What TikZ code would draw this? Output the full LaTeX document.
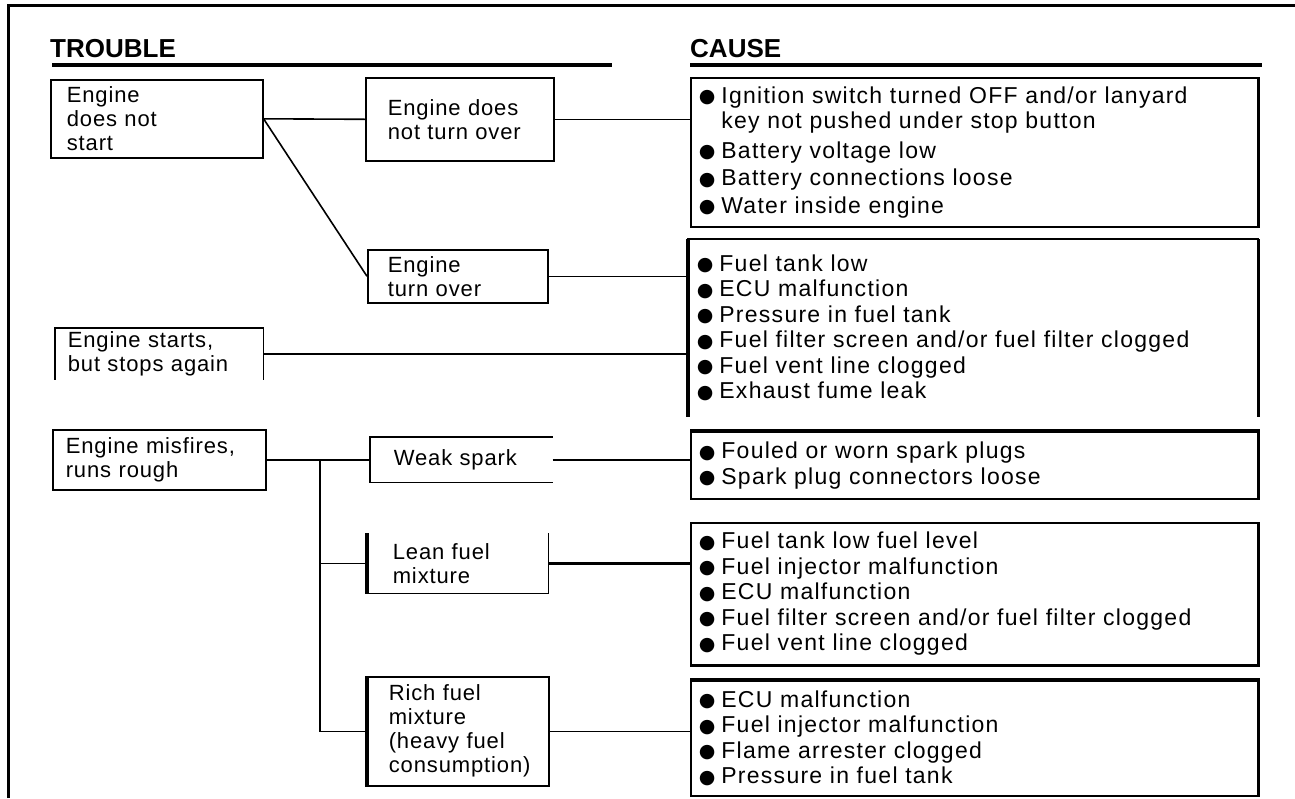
\documentclass[tikz,border=0pt]{standalone}
\usepackage{fontspec}
\setmainfont{Liberation Sans}[LetterSpace=4]
\newfontfamily\headfont{Liberation Sans}
\newfontfamily\causefont{Liberation Sans}[LetterSpace=5.5]
\newfontfamily\dejavu{DejaVu Sans}
\usetikzlibrary{calc}

% bullet for the cause lists
\newcommand{\bul}{\raisebox{0.5pt}{\dejavu\fontsize{19}{19}\selectfont ●}\hspace{6pt}}
\newcommand{\bulgap}{\phantom{\bul}}

\begin{document}
\begin{tikzpicture}[x=1pt, y=-1pt,
  line/.style={line width=1.6pt},
  thickline/.style={line width=3.5pt},
  rule/.style={line width=3.5pt},
  trouble/.style={anchor=north west, draw, line width=1.6pt, align=left, inner ysep=2pt,
    font=\fontsize{22}{24}\selectfont},
  cause/.style={anchor=north west, draw, line width=1.6pt, align=left, inner ysep=2pt,
    minimum width=567pt, text width=551pt, inner xsep=8pt,
    font=\causefont\fontsize{23}{25.5}\selectfont},
  head/.style={anchor=base west, inner sep=0pt, font=\headfont\fontsize{26}{26}\selectfont\bfseries}]

\useasboundingbox (0,0) rectangle (1295,798);

% frame
\draw[line width=3pt] (8,798) -- (8,5) -- (1295,5);

% headings
\node[head] (trouble) at (50,57) {TROUBLE};
\node[head] (causehead) at (690,57) {CAUSE};
\draw[rule] (52,65) -- (612,65);
\draw[rule] (690,65) -- (1262,65);

% trouble boxes
\node[trouble, minimum width=212pt, minimum height=78pt, text width=180pt, inner xsep=16pt] (start) at (50,79) {Engine\\does not\\start};
\node[trouble, minimum width=188pt, minimum height=83pt, text width=144pt, inner xsep=22pt] (noturn) at (365,77) {Engine does\\not turn over};
\node[trouble, minimum width=180pt, minimum height=53pt, text width=140pt, inner xsep=20pt] (turnover) at (367,249) {Engine\\turn over};
\node[trouble, draw=none, minimum width=207pt, minimum height=50pt, text width=183pt, inner xsep=12pt] (starts) at (55,328) {Engine starts,\\but stops again};
\node[trouble, minimum width=213pt, minimum height=60pt, text width=187pt, inner xsep=13pt] (misfire) at (52,429) {Engine misfires,\\runs rough};
\node[trouble, draw=none, minimum width=181pt, minimum height=44pt, text width=135pt, inner xsep=23pt] (weak) at (370,437) {Weak spark};
\node[trouble, draw=none, minimum width=180pt, minimum height=59pt, text width=130pt, inner xsep=25pt] (lean) at (367,533) {Lean fuel\\mixture};
\node[trouble, minimum width=181pt, minimum height=109pt, text width=139pt, inner xsep=21pt] (rich) at (367,676) {Rich fuel\\mixture\\(heavy fuel\\consumption)};

% open sides
\draw[line] (starts.south west) -- (starts.north west) -- (starts.north east) -- (starts.south east);
\draw[line] (weak.north east) -- (weak.north west) -- (weak.south west) -- (weak.south east);
\draw[line] (lean.north west) -- (lean.south west) -- (lean.south east) -- (lean.north east);

% cause boxes
\node[cause, minimum height=149pt] (cause1) at (690,77) {\bul Ignition switch turned OFF and/or lanyard\\
  \bulgap key not pushed under stop button\\[4pt]
  \bul Battery voltage low\\[2pt]
  \bul Battery connections loose\\[2pt]
  \bul Water inside engine};
\node[cause, draw=none, minimum width=569pt, text width=553pt, minimum height=176pt] (cause2) at (688,239) {\bul Fuel tank low\\
  \bul ECU malfunction\\
  \bul Pressure in fuel tank\\
  \bul Fuel filter screen and/or fuel filter clogged\\
  \bul Fuel vent line clogged\\
  \bul Exhaust fume leak};
\node[cause, minimum height=67pt] (cause3) at (690,431) {\bul Fouled or worn spark plugs\\
  \bul Spark plug connectors loose};
\node[cause, minimum height=142pt] (cause4) at (690,522) {\bul Fuel tank low fuel level\\
  \bul Fuel injector malfunction\\
  \bul ECU malfunction\\
  \bul Fuel filter screen and/or fuel filter clogged\\
  \bul Fuel vent line clogged};
\node[cause, minimum height=115pt] (cause5) at (690,680) {\bul ECU malfunction\\
  \bul Fuel injector malfunction\\
  \bul Flame arrester clogged\\
  \bul Pressure in fuel tank};
\draw[line] (cause2.south west) -- (cause2.north west) -- (cause2.north east) -- (cause2.south east);

% heavier sides
\draw[thickline] (cause1.north east) -- (cause1.south east);
\draw[thickline] (cause2.north west) -- (cause2.south west);
\draw[thickline] (cause2.north east) -- (cause2.south east);
\draw[thickline] (cause3.north west) -- (cause3.north east) -- (cause3.south east);
\draw[thickline] (cause4.north east) -- (cause4.south east) -- (cause4.south west);
\draw[thickline] (cause5.north west) -- (cause5.north east) -- (cause5.south east);
\draw[thickline] (lean.north west) -- (lean.south west);
\draw[thickline] (rich.north west) -- (rich.south west);

% connectors
\draw[line] (start.east) -- (noturn.west);
\draw[line] (noturn.east) -- (noturn.east -| cause1.west);
\draw[line] (start.east) -- (turnover.west);
\draw[line] (turnover.east) -- (turnover.east -| cause2.west);
\draw[line] (starts.east) -- (starts.east -| cause2.west);
\draw[line] (misfire.east) -- (weak.west);
\draw[line] (weak.east) -- (weak.east -| cause3.west);
\coordinate (trunk) at (320,459);
\draw[line] (trunk) |- (lean.west);
\draw[line] (trunk) |- (rich.west);
\draw[thickline] (lean.east) -- (lean.east -| cause4.west);
\draw[line] (rich.east) -- (rich.east -| cause5.west);

\end{tikzpicture}
\end{document}
